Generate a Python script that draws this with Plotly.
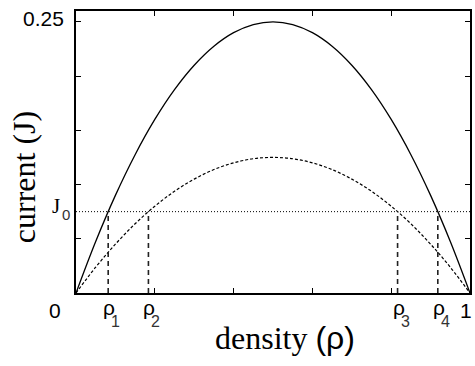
import plotly.graph_objects as go

# Data
density = [0.00, 0.05, 0.10, 0.15, 0.20, 0.25, 0.30, 0.35, 0.40, 0.45, 0.50,
           0.55, 0.60, 0.65, 0.70, 0.75, 0.80, 0.85, 0.90, 0.95, 1.00]
current_solid = [0.0, 0.0475, 0.09, 0.1275, 0.16, 0.1875, 0.21, 0.2275, 0.24, 0.2475, 0.25,
                 0.2475, 0.24, 0.2275, 0.21, 0.1875, 0.16, 0.1275, 0.09, 0.0475, 0.0]
current_dotted = [0.0, 0.0238, 0.045, 0.0638, 0.08, 0.0938, 0.105, 0.1138, 0.12, 0.1238, 0.125,
                  0.1238, 0.12, 0.1138, 0.105, 0.0938, 0.08, 0.0638, 0.045, 0.0238, 0.0]
J0 = 0.075
rho_marks = [0.0817, 0.1838, 0.8162, 0.9183]
rho_indices = ["1", "2", "3", "4"]

fig = go.Figure()
fig.add_trace(go.Scatter(x=density, y=current_solid, mode="lines",
                         line=dict(color="black", width=1.3, shape="spline"),
                         showlegend=False, hoverinfo="skip"))
fig.add_trace(go.Scatter(x=density, y=current_dotted, mode="lines",
                         line=dict(color="black", width=1.2, shape="spline", dash="3px,2px"),
                         showlegend=False, hoverinfo="skip"))
fig.add_trace(go.Scatter(x=[0, 1], y=[J0, J0], mode="lines",
                         line=dict(color="black", width=1, dash="1px,2px"),
                         showlegend=False, hoverinfo="skip"))
for r in rho_marks:
    fig.add_trace(go.Scatter(x=[r, r], y=[0, J0], mode="lines",
                             line=dict(color="#222", width=1.6, dash="5px,4px"),
                             showlegend=False, hoverinfo="skip"))

sans = "Liberation Sans, Arial"
serif = "Liberation Serif, Times New Roman"
annotations = []
for r, idx in zip(rho_marks, rho_indices):
    annotations.append(dict(x=r, y=0, xref="x", yref="y", text="ρ", showarrow=False,
                            xanchor="center", yanchor="top", xshift=1, yshift=-1,
                            font=dict(family=sans, size=21, color="black")))
    annotations.append(dict(x=r, y=0, xref="x", yref="y", text=idx, showarrow=False,
                            xanchor="left", yanchor="top", xshift=1, yshift=-18,
                            font=dict(family=sans, size=16, color="#333")))
annotations += [
    dict(x=0, y=0, xref="x", yref="y", text="0", showarrow=False, xanchor="right",
         yanchor="top", xshift=-13, yshift=-4,
         font=dict(family=sans, size=21, color="black")),
    dict(x=1, y=0, xref="x", yref="y", text="1", showarrow=False, xanchor="right",
         yanchor="top", xshift=4, yshift=-4,
         font=dict(family=sans, size=21, color="black")),
    dict(x=0, y=0.25, xref="x", yref="y", text="0.25", showarrow=False, xanchor="right",
         yanchor="top", xshift=-10, yshift=17,
         font=dict(family=sans, size=21, color="black")),
    dict(x=0, y=J0, xref="x", yref="y", text="J", showarrow=False, xanchor="right",
         yanchor="top", xshift=-14, yshift=20,
         font=dict(family=serif, size=21, color="black")),
    dict(x=0, y=J0, xref="x", yref="y", text="0", showarrow=False, xanchor="left",
         yanchor="top", xshift=-16, yshift=8,
         font=dict(family=sans, size=15, color="#333")),
    dict(x=0.53, y=-0.09, xref="paper", yref="paper",
         text="density <span style='font-family:Liberation Sans'>(ρ)</span>",
         showarrow=False, xanchor="center", yanchor="top",
         font=dict(family=serif, size=32, color="black")),
    dict(x=-0.13, y=0.41, xref="paper", yref="paper", text="current (J)",
         showarrow=False, textangle=-90, xanchor="center", yanchor="middle",
         font=dict(family=serif, size=32, color="black")),
]

axis_common = dict(showline=True, linecolor="black", linewidth=1.5, mirror="ticks",
                   ticks="inside", ticklen=5, tickcolor="black", tickwidth=1,
                   showticklabels=False, showgrid=False, zeroline=False, fixedrange=True)

fig.update_layout(
    width=475, height=366,
    margin=dict(l=76, r=3, t=11, b=73),
    paper_bgcolor="white", plot_bgcolor="white",
    xaxis=dict(range=[0, 1], dtick=0.2, tick0=0, **axis_common),
    yaxis=dict(range=[0, 0.26], dtick=0.05, tick0=0, **axis_common),
    annotations=annotations,
)

fig.write_html("out.html", config={"displayModeBar": False},
               post_script="document.body.style.margin='0';document.body.style.overflow='hidden';")
